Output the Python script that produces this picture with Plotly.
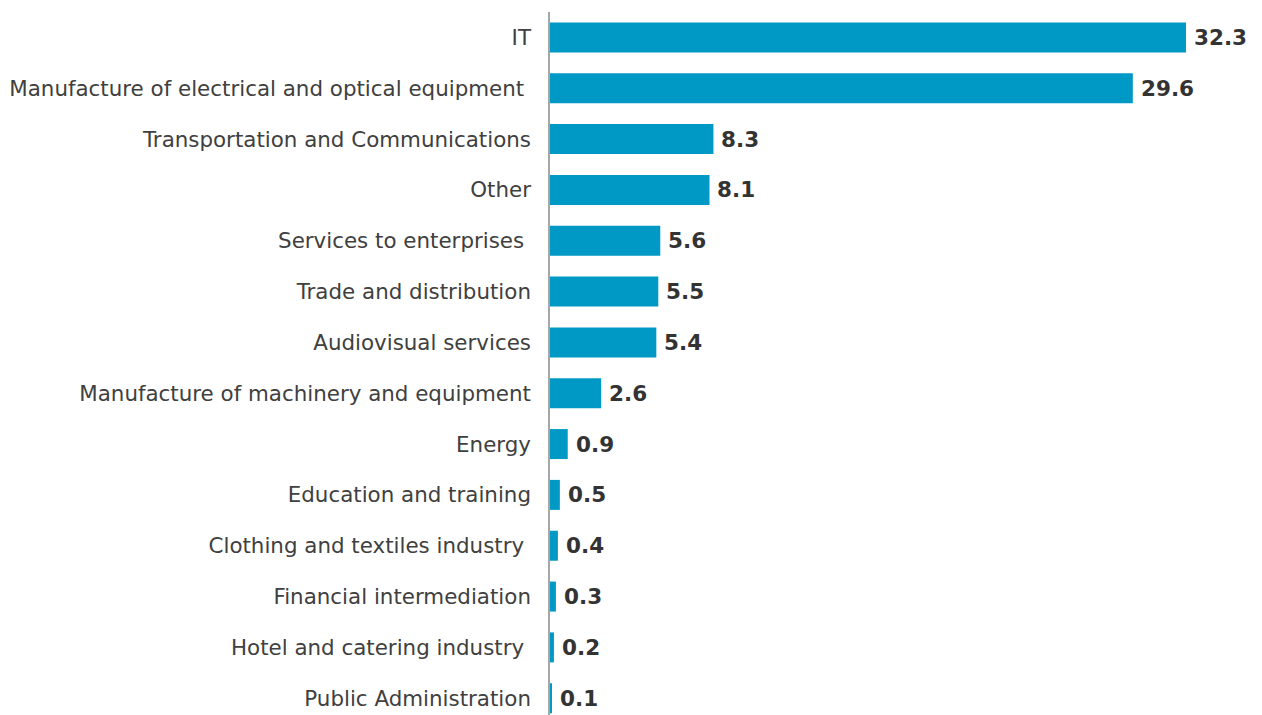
import plotly.graph_objects as go

NBSP = "\u00a0"

# Sectors, top to bottom, and their shares (%)
sectors = [
    "IT",
    "Manufacture of electrical and optical equipment" + NBSP,
    "Transportation and Communications",
    "Other",
    "Services to enterprises" + NBSP,
    "Trade and distribution",
    "Audiovisual services",
    "Manufacture of machinery and equipment",
    "Energy",
    "Education and training",
    "Clothing and textiles industry" + NBSP,
    "Financial intermediation",
    "Hotel and catering industry" + NBSP,
    "Public Administration",
]
shares = [32.3, 29.6, 8.3, 8.1, 5.6, 5.5, 5.4, 2.6, 0.9, 0.5, 0.4, 0.3, 0.2, 0.1]

bar_color = "#0099C6"
text_color = "#404040"
font_family = "DejaVu Sans, Verdana, sans-serif"

fig = go.Figure(
    go.Bar(
        x=shares,
        y=sectors,
        orientation="h",
        marker=dict(color=bar_color, line=dict(width=0)),
        width=0.59,
        hoverinfo="skip",
    )
)

# Value labels just past the end of each bar
for s, v in zip(sectors, shares):
    fig.add_annotation(
        x=v, y=s, text=f"<b>{v:.1f}</b>", showarrow=False,
        xanchor="left", yanchor="middle", xshift=6,
        font=dict(family=font_family, size=21.5, color="#333333"),
    )

fig.update_layout(
    width=1262, height=715,
    margin=dict(l=550, r=0, t=12, b=0),
    paper_bgcolor="white", plot_bgcolor="white",
    showlegend=False,
    font=dict(family=font_family, size=21.4, color=text_color),
    xaxis=dict(
        range=[0, 36.16], visible=False, showgrid=False, zeroline=False,
    ),
    yaxis=dict(
        type="category",
        range=[13.33, -0.5], autorange=False,
        showline=True, linecolor="#A6A6A6", linewidth=1.5,
        ticks="", showgrid=False, zeroline=False,
        ticklabelstandoff=13,
        tickfont=dict(family=font_family, size=21.4, color=text_color),
    ),
)

fig.write_html("out.html")
